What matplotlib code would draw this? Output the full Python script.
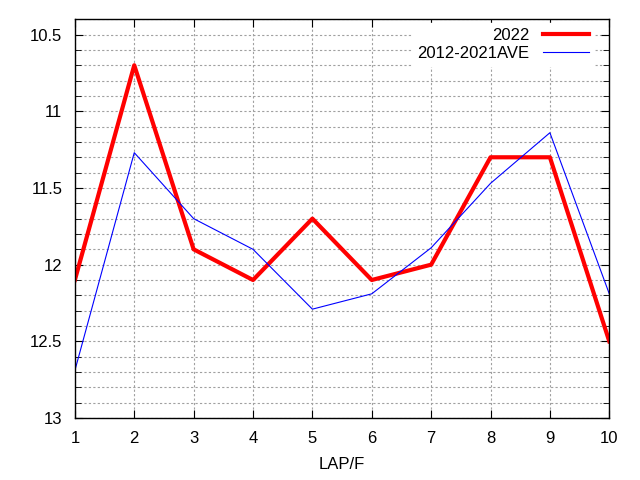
import matplotlib
matplotlib.use('Agg')
import matplotlib.pyplot as plt
from matplotlib.ticker import MultipleLocator

plt.rcParams['font.family'] = ['Liberation Sans', 'DejaVu Sans']

laps = [1, 2, 3, 4, 5, 6, 7, 8, 9, 10]
times_2022 = [12.1, 10.7, 11.9, 12.1, 11.7, 12.1, 12.0, 11.3, 11.3, 12.5]
times_ave = [12.69, 11.27, 11.7, 11.9, 12.29, 12.19, 11.89, 11.47, 11.14, 12.19]
ytick_vals = [10.5, 11, 11.5, 12, 12.5, 13]
ytick_labels = ['10.5', '11', '11.5', '12', '12.5', '13']

fig = plt.figure(figsize=(6.4, 4.8), dpi=100)
ax = fig.add_axes([0.117, 0.129, 0.835, 0.831])

ax.plot(laps, times_2022, color='#ff0000', lw=3, label='2022', zorder=3)
ax.plot(laps, times_ave, color='#0000ff', lw=0.8, label='2012-2021AVE', zorder=3)

ax.set_xlim(1, 10)
ax.set_ylim(13, 10.4)
ax.set_xticks(laps)
ax.set_yticks(ytick_vals)
ax.set_yticklabels(ytick_labels)
ax.yaxis.set_minor_locator(MultipleLocator(0.1))

ax.tick_params(which='both', direction='in', top=True, right=True, labelsize=12)
ax.tick_params(axis='x', pad=9)
ax.tick_params(axis='y', pad=9)
ax.tick_params(which='major', length=6)
ax.tick_params(which='minor', length=4)

ax.grid(which='both', axis='y', color='#a0a0a0', ls=(0, (2, 2)), lw=0.8)
ax.grid(which='major', axis='x', color='#a0a0a0', ls=(0, (2, 2)), lw=0.8)

for sp in ax.spines.values():
    sp.set_linewidth(1)
    sp.set_zorder(4)

ax.set_xlabel('LAP/F', fontsize=12, labelpad=8)

leg = ax.legend(loc='upper right', bbox_to_anchor=(0.978, 1.0), markerfirst=False,
                fontsize=12, frameon=True, fancybox=False, borderaxespad=0.2,
                handlelength=2.8, handletextpad=0.8, labelspacing=0.2, borderpad=0.3)
leg.get_frame().set_edgecolor('white')
leg.get_frame().set_facecolor('white')
leg.get_frame().set_alpha(1)
leg.set_zorder(5)

fig.savefig('out.png', dpi=100)
